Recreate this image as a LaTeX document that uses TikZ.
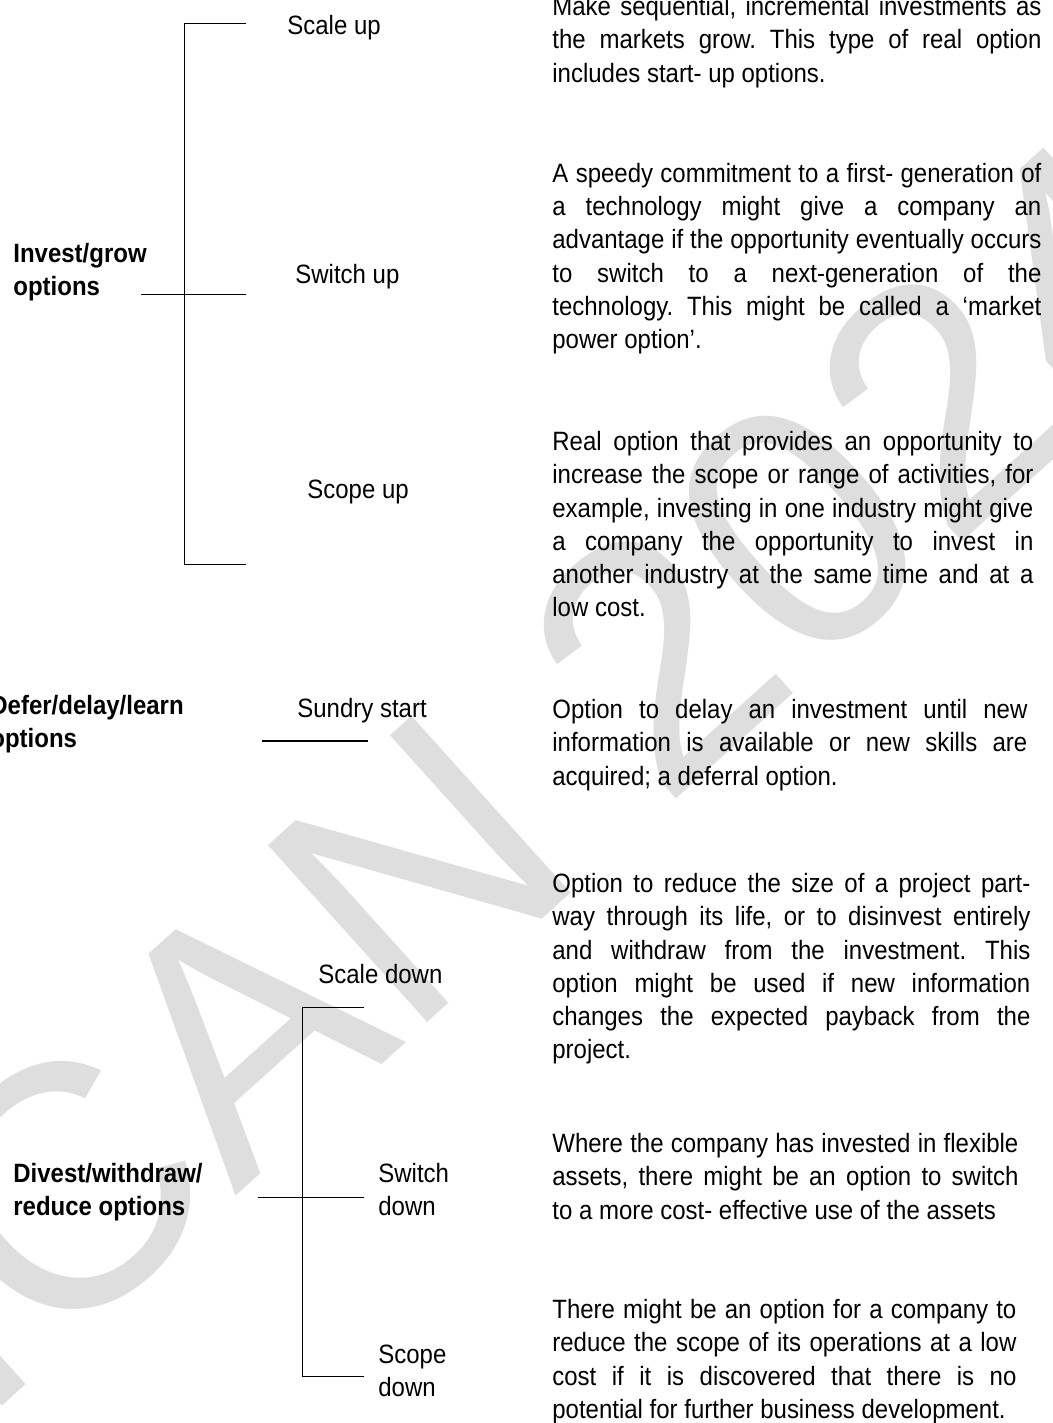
\documentclass[tikz,border=0pt]{standalone}
\usepackage{fontspec}
\setmainfont{Liberation Sans}[FakeStretch=0.905]
\newfontfamily\stampfont{Liberation Sans}
\definecolor{wmark}{gray}{0.87}

\begin{document}
\begin{tikzpicture}[x=0.5pt, y=-0.5pt,
    txt/.style={inner sep=0pt, anchor=north west, font=\fontsize{13.25}{16.65}\selectfont,
        execute at begin node={\frenchspacing\parindent=0pt\tolerance=9999\hyphenpenalty=10000\exhyphenpenalty=10000\strut}},
    head/.style={txt, align=left, font=\fontsize{13.25}{16.65}\selectfont\bfseries},
    desc/.style={txt, align=justify, text width=#1},
    stamp/.style={inner sep=0pt, anchor=base west, rotate=42, text=wmark, font=\stampfont\fontsize{173}{173}\selectfont},
    link/.style={line width=0.5pt}]
    \useasboundingbox (0,0) rectangle (1053,1423);

    % watermark behind everything
    \node[stamp] (stamp) at (-22,1428) {ICAN 2024};

    % Option groups
    \node[head] (invest) at (13,242.7) {Invest/grow\\options};
    \node[head] (defer) at (-10,694.7) {Defer/delay/learn\\options};
    \node[head] (divest) at (13,1162.7) {Divest/withdraw/\\reduce options};

    % Single options
    \node[txt] (scale-up) at (287,10.7) {Scale up};
    \node[txt] (switch-up) at (295,259.7) {Switch up};
    \node[txt] (scope-up) at (307,474.7) {Scope up};
    \node[txt] (sundry) at (297,693.7) {Sundry start};
    \node[txt] (scale-down) at (318,959.7) {Scale down};
    \node[txt, align=left] (switch-down) at (378,1162.7) {Switch\\down};
    \node[txt, align=left] (scope-down) at (378,1344.7) {Scope\\down};

    % Explanations
    \node[desc=244.5pt] (desc-scale-up) at (552,-8.3) {Make sequential, incremental investments as\linebreak the markets grow. This type of real option\linebreak includes start- up options.};
    \node[desc=244.5pt] (desc-switch-up) at (552,158.4) {A speedy commitment to a first- generation of\linebreak a technology might give a company an\linebreak advantage if the opportunity eventually occurs\linebreak to switch to a next-generation of the\linebreak technology. This might be called a ‘market\linebreak power option’.};
    \node[desc=240.5pt] (desc-scope-up) at (552,426.7) {Real option that provides an opportunity to\linebreak increase the scope or range of activities, for\linebreak example, investing in one industry might give\linebreak a company the opportunity to invest in\linebreak another industry at the same time and at a\linebreak low cost.};
    \node[desc=237.5pt] (desc-sundry) at (552,694.7) {Option to delay an investment until new\linebreak information is available or new skills are\linebreak acquired; a deferral option.};
    \node[desc=239pt] (desc-scale-down) at (552,868.7) {Option to reduce the size of a project part-\linebreak way through its life, or to disinvest entirely\linebreak and withdraw from the investment. This\linebreak option might be used if new information\linebreak changes the expected payback from the\linebreak project.};
    \node[desc=233pt] (desc-switch-down) at (552,1128.7) {Where the company has invested in flexible\linebreak assets, there might be an option to switch\linebreak to a more cost- effective use of the assets};
    \node[desc=232pt] (desc-scope-down) at (552,1294.7) {There might be an option for a company to\linebreak reduce the scope of its operations at a low\linebreak cost if it is discovered that there is no\linebreak potential for further business development.};

    % Invest/grow bracket
    \coordinate (grow-in) at (141,294);
    \coordinate (grow-top) at (184,24);
    \coordinate (grow-bot) at (184,564);
    \coordinate (grow-1) at (246,24);
    \coordinate (grow-2) at (246,294);
    \coordinate (grow-3) at (246,564);
    \draw[link] (grow-1) -- (grow-top) -- (grow-bot) -- (grow-3);
    \draw[link] (grow-in) -- (grow-2);

    % Defer/delay/learn line
    \coordinate (delay-in) at (262,741);
    \coordinate (delay-out) at (368,741);
    \draw[link, line width=1pt] (delay-in) -- (delay-out);

    % Divest bracket
    \coordinate (cut-in) at (258,1197);
    \coordinate (cut-top) at (302,1007);
    \coordinate (cut-bot) at (302,1376);
    \coordinate (cut-1) at (364,1007);
    \coordinate (cut-2) at (364,1197);
    \coordinate (cut-3) at (364,1376);
    \draw[link] (cut-1) -- (cut-top) -- (cut-bot) -- (cut-3);
    \draw[link] (cut-in) -- (cut-2);

\end{tikzpicture}
\end{document}
